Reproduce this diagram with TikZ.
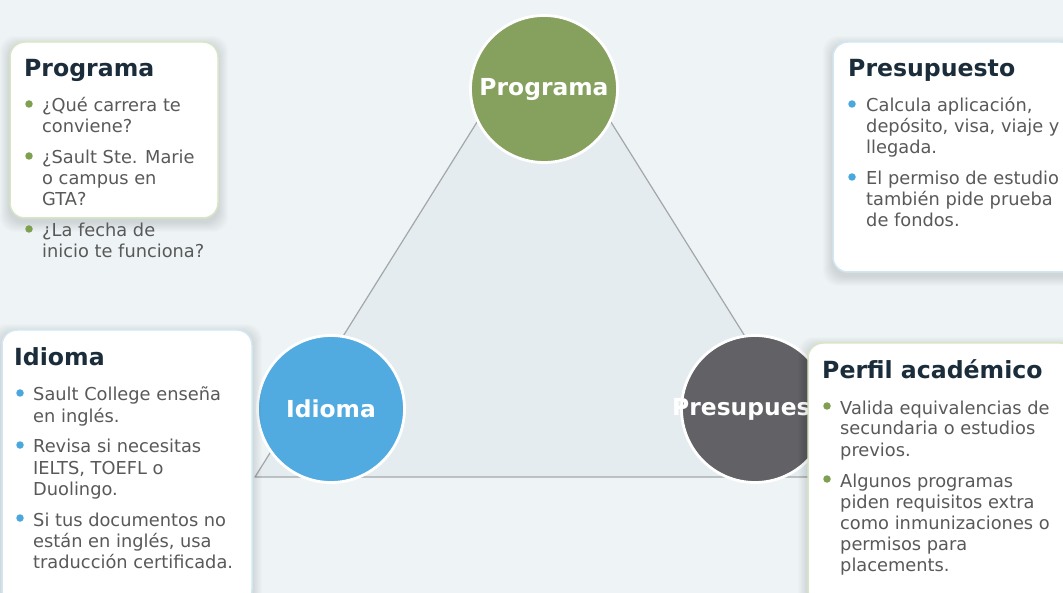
\documentclass[tikz,border=0pt]{standalone}
\usepackage{fontspec}
\setmainfont{DejaVu Sans}
\definecolor{bgc}{HTML}{EEF3F5}
\definecolor{tric}{HTML}{E4ECEF}
\definecolor{triedge}{HTML}{A3A7AA}
\definecolor{progc}{HTML}{86A05E}
\definecolor{idic}{HTML}{52ABE0}
\definecolor{presc}{HTML}{626166}
\definecolor{titlec}{HTML}{1B2D3B}
\definecolor{bodyc}{HTML}{595959}
\definecolor{greenedge}{HTML}{D9E6C6}
\definecolor{blueedge}{HTML}{D2E7F4}
\definecolor{greendot}{HTML}{7FA050}
\definecolor{bluedot}{HTML}{4AA8DF}
\newcommand{\cardshadow}[4]{%
  \foreach \k in {1,...,10} {%
    \fill[black, opacity=0.012, rounded corners=15pt] (#1-\k,#2-\k+4) rectangle (#3+\k,#4+\k+4);
  }%
}
\begin{document}
\begin{tikzpicture}[x=1pt,y=-1pt,
  titletext/.style={anchor=base west, inner sep=0pt, text=titlec, font=\fontsize{23.6}{27}\selectfont\bfseries},
  bodytext/.style={anchor=base west, inner sep=0pt, text=bodyc, font=\fontsize{17.8}{21}\selectfont},
  circlabel/.style={text=white, inner sep=0pt, font=\fontsize{23.4}{27}\selectfont\bfseries},
  bigcirc/.style={circle, minimum size=147pt, inner sep=0pt, draw=white, line width=2.8pt},
  card/.style={fill=white, rounded corners=15pt, line width=1.5pt},
  dot/.style={circle, minimum size=7.5pt, inner sep=0pt},
  tri/.style={fill=tric, draw=triedge, line width=1.2pt, line join=round},
]
\useasboundingbox (0,0) rectangle (1063,593);
\fill[bgc] (0,0) rectangle (1063,593);

% triangle
\coordinate (tA) at (544,15);
\coordinate (tB) at (255,477);
\coordinate (tC) at (833,477);
\draw[tri] (tA) -- (tB) -- (tC) -- cycle;

% circles
\node[bigcirc, fill=progc] (cprog) at (544,89) {};
\node[circlabel] (lprog) at (cprog.center) {Programa};
\node[bigcirc, fill=idic] (cidi) at (331,409) {};
\node[circlabel] (lidi) at (cidi.center) {Idioma};
\node[bigcirc, fill=presc] (cpres) at (755,409) {};
\node[circlabel] (lpres) at (cpres.center) {Presupuesto};

% card: Programa
\cardshadow{10}{42}{218}{218}
\draw[card, draw=greenedge] (10,42) rectangle (218,218);
\node[titletext] (tprog) at (24,77) {Programa};
\node[dot, fill=greendot] (dp1) at (29,104) {};
\node[bodytext] (p1a) at (42,112) {¿Qué carrera te};
\node[bodytext] (p1b) at (42,133) {conviene?};
\node[dot, fill=greendot] (dp2) at (29,156) {};
\node[bodytext] (p2a) at (42,164) {¿Sault Ste. Marie};
\node[bodytext] (p2b) at (42,185) {o campus en};
\node[bodytext] (p2c) at (42,206) {GTA?};
\node[dot, fill=greendot] (dp3) at (29,229) {};
\node[bodytext] (p3a) at (42,237) {¿La fecha de};
\node[bodytext] (p3b) at (42,258) {inicio te funciona?};

% card: Presupuesto
\cardshadow{833}{42}{1075}{272}
\draw[card, draw=blueedge] (833,42) rectangle (1075,272);
\node[titletext] (tpres) at (848,77) {Presupuesto};
\node[dot, fill=bluedot] (dr1) at (852,104) {};
\node[bodytext] (r1a) at (866,112) {Calcula aplicación,};
\node[bodytext] (r1b) at (866,133) {depósito, visa, viaje y};
\node[bodytext] (r1c) at (866,154) {llegada.};
\node[dot, fill=bluedot] (dr2) at (852,177) {};
\node[bodytext] (r2a) at (866,185) {El permiso de estudio};
\node[bodytext] (r2b) at (866,206) {también pide prueba};
\node[bodytext] (r2c) at (866,227) {de fondos.};

% card: Idioma
\cardshadow{2}{330}{252}{605}
\draw[card, draw=blueedge] (2,330) rectangle (252,605);
\node[titletext] (tidi) at (14,366) {Idioma};
\node[dot, fill=bluedot] (di1) at (20,393) {};
\node[bodytext] (i1a) at (33,401) {Sault College enseña};
\node[bodytext] (i1b) at (33,422) {en inglés.};
\node[dot, fill=bluedot] (di2) at (20,445) {};
\node[bodytext] (i2a) at (33,453) {Revisa si necesitas};
\node[bodytext] (i2b) at (33,474) {IELTS, TOEFL o};
\node[bodytext] (i2c) at (33,495) {Duolingo.};
\node[dot, fill=bluedot] (di3) at (20,518) {};
\node[bodytext] (i3a) at (33,526) {Si tus documentos no};
\node[bodytext] (i3b) at (33,547) {están en inglés, usa};
\node[bodytext] (i3c) at (33,568) {traducción certificada.};

% card: Perfil academico
\cardshadow{808}{343}{1075}{605}
\draw[card, draw=greenedge] (808,343) rectangle (1075,605);
\node[titletext] (tperf) at (822,379) {Perfil académico};
\node[dot, fill=greendot] (df1) at (827,406) {};
\node[bodytext] (f1a) at (840,414) {Valida equivalencias de};
\node[bodytext] (f1b) at (840,435) {secundaria o estudios};
\node[bodytext] (f1c) at (840,456) {previos.};
\node[dot, fill=greendot] (df2) at (827,479) {};
\node[bodytext] (f2a) at (840,487) {Algunos programas};
\node[bodytext] (f2b) at (840,508) {piden requisitos extra};
\node[bodytext] (f2c) at (840,529) {como inmunizaciones o};
\node[bodytext] (f2d) at (840,550) {permisos para};
\node[bodytext] (f2e) at (840,571) {placements.};
\end{tikzpicture}
\end{document}
